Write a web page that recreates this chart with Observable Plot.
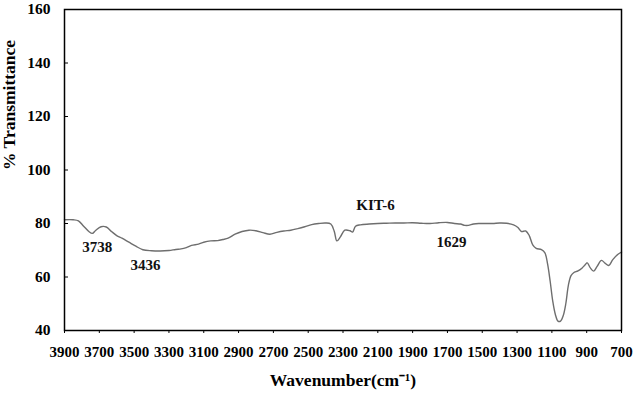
<!DOCTYPE html>
<html><head><meta charset="utf-8">
<script src="https://cdn.jsdelivr.net/npm/d3@7"></script>
<script src="https://cdn.jsdelivr.net/npm/@observablehq/plot@0.6"></script>
<style>body{margin:0;background:#fff}</style>
</head><body><div id="chart"></div>
<script>
const wavenumber = [3900,3850,3820,3790,3760,3740,3720,3690,3660,3630,3600,3570,3530,3490,3450,3400,3350,3300,3260,3230,3200,3170,3130,3100,3060,3020,2990,2960,2920,2880,2840,2800,2760,2720,2680,2640,2600,2560,2520,2480,2440,2400,2370,2350,2335,2315,2290,2260,2245,2228,2200,2150,2100,2050,2000,1950,1900,1850,1800,1750,1700,1660,1625,1600,1580,1550,1520,1480,1440,1400,1360,1320,1295,1275,1250,1230,1210,1190,1160,1140,1125,1110,1095,1080,1065,1050,1035,1020,1005,990,975,950,926,910,897,880,860,840,815,795,773,750,720,700];
const transmittance = [81.4,81.4,81,79,77,76.3,77.5,78.8,78.7,77,75.5,74.5,73,71.5,70.2,69.8,69.7,69.9,70.3,70.5,71,71.8,72.3,73,73.5,73.6,74,74.5,76,77,77.5,77.3,76.6,76,76.7,77.2,77.5,78.1,78.8,79.6,80,80.2,79.8,77,73.5,75,77.5,77.3,76.8,79,79.5,79.8,80,80.1,80.2,80.2,80.3,80.1,80,80.3,80.4,80,79.8,79.3,79.3,79.8,80,80,80,80.2,80.1,79.5,78.5,77,77.2,75.5,72,70.7,70.2,69,65,58.5,51,46,43.5,43.5,45.5,50,57,60.5,61.6,62.3,63.4,64.5,65.3,63.5,62.2,64,66.2,65.2,64.3,66.5,68.5,69.3];
const xTicks = [3900,3700,3500,3300,3100,2900,2700,2500,2300,2100,1900,1700,1500,1300,1100,900,700];
const yTicks = [40,60,80,100,120,140,160];
const annLabels = ["3738","3436","KIT-6","1629"];
const annX = [3712,3435,2113,1677];
const annY = [71.2,64.4,86.9,73.2];

const data = wavenumber.map((w,i)=>({w, t: transmittance[i]}));
const ann = annLabels.map((s,i)=>({s, x: annX[i], y: annY[i]}));

const chart = Plot.plot({
  width: 635, height: 400,
  marginLeft: 64, marginRight: 14, marginTop: 9, marginBottom: 70,
  style: {fontFamily: "'Liberation Serif', serif", fontWeight: "bold", fontSize: "15px", color: "#000", background: "#fff"},
  x: {domain: [3900, 700]},
  y: {domain: [40, 160]},
  marks: [
    Plot.axisX({ticks: xTicks, tickFormat: d => String(d), tickSize: 3, tickPadding: 13, fontSize: 15, fontWeight: "bold", label: null}),
    Plot.axisY({ticks: yTicks, tickFormat: d => String(d), tickSize: 0, tickPadding: 14, fontSize: 15.5, fontWeight: "bold", label: null}),
    Plot.axisY({ticks: yTicks, tickSize: -4, text: null, label: null}),
    Plot.text(["Wavenumber(cm⁻¹)"], {frameAnchor: "bottom", dy: 55, fontSize: 17.5, fontWeight: "bold", fill: "#000"}),
    Plot.text(["% Transmittance"], {frameAnchor: "left", dx: -55, rotate: -90, fontSize: 17.5, fontWeight: "bold", fill: "#000"}),
    Plot.line(data, {x: "w", y: "t", stroke: "#6e6e6e", strokeWidth: 1.4, curve: "catmull-rom"}),
    Plot.text(ann, {x: "x", y: "y", text: "s", fontSize: 15, fontWeight: "bold", fill: "#111"}),
    Plot.frame({stroke: "#000", strokeWidth: 1.5})
  ]
});
document.getElementById("chart").append(chart);
</script>
</body></html>
